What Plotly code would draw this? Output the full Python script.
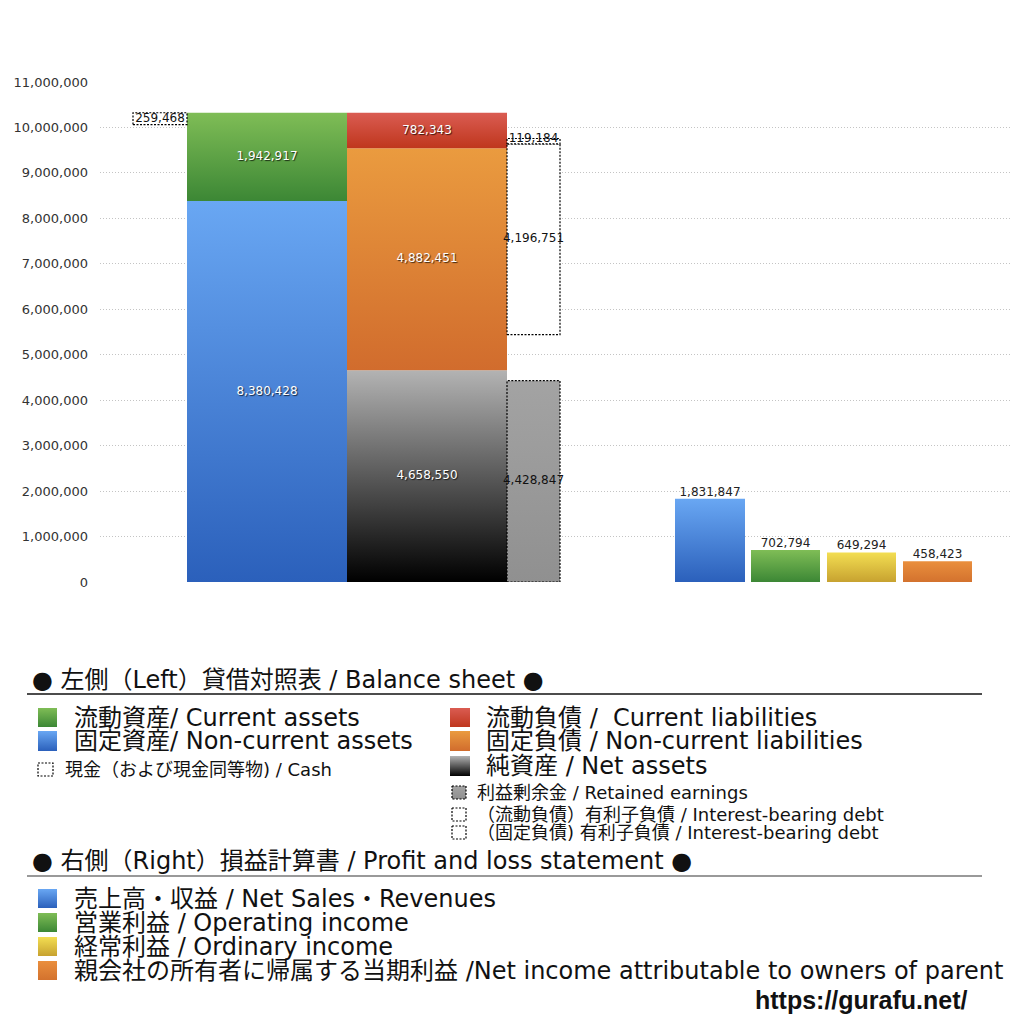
import plotly.graph_objects as go

# ---- values (thousand yen) ----
current_assets = 1942917
noncurrent_assets = 8380428
cash = 259468
current_liab = 782343
noncurrent_liab = 4882451
net_assets = 4658550
retained_earnings = 4428847
ibd_current = 119184
ibd_noncurrent = 4196751

pl_labels = ["売上高", "営業利益", "経常利益", "当期利益"]
pl_values = [1831847, 702794, 649294, 458423]

y_ticks = list(range(0, 11000001, 1000000))

FONT = "DejaVu Sans, Noto Sans CJK JP, sans-serif"

# gradient colours (top, bottom)
GREEN = ("#7fbd56", "#3c8735")
BLUE = ("#69a7f3", "#2b60bb")
RED = ("#da5c52", "#bf361d")
ORANGE = ("#ea9b3f", "#d16c2d")
GREYBLACK = ("#b3b3b3", "#000000")
GREY = ("#a3a3a3", "#909090")
YELLOW = ("#f3de52", "#c7a230")
ORANGE2 = ("#ea8f3d", "#d3722e")

# page is 1008px inside an 8px body margin; layout is planned in window pixels
PAGE = 1008
OFF = 8


def dom_x(p0, p1):
    return [(p0 - OFF) / PAGE, (p1 - OFF) / PAGE]


def dom_y(top, bottom):
    return [1 - (bottom - OFF) / PAGE, 1 - (top - OFF) / PAGE]


# column slots (window-pixel x coordinates of the plot)
col_cash = (133, 187)
col_assets = (187, 347)
col_liab = (347, 507)
col_extra = (507, 560)
pl_cols = [(675, 745), (751, 820), (827, 896), (903, 972)]

fig = go.Figure()


def box(x0, x1, y0, y1, grad=None, fill=None, dotted=False, xa="x", ya="y"):
    tr = dict(x=[x0, x1, x1, x0, x0], y=[y0, y0, y1, y1, y0], mode="lines",
              fill="toself", hoverinfo="skip", showlegend=False,
              xaxis=xa, yaxis=ya)
    if dotted:
        tr["line"] = dict(color="black", width=1.2, dash="2px,1.5px")
    else:
        tr["line"] = dict(color="rgba(0,0,0,0)", width=0)
    if grad:
        top, bottom = grad
        lo, hi = min(y0, y1), max(y0, y1)
        cs = [[0, bottom], [1, top]] if ya == "y" else [[0, top], [1, bottom]]
        tr["fillgradient"] = dict(type="vertical", colorscale=cs, start=lo, stop=hi)
    else:
        tr["fillcolor"] = fill or "rgba(0,0,0,0)"
    fig.add_trace(go.Scatter(**tr))


def mid(c):
    return (c[0] + c[1]) / 2


# ---- balance sheet ----
total_assets = current_assets + noncurrent_assets
box(*col_assets, 0, noncurrent_assets, grad=BLUE)
box(*col_assets, noncurrent_assets, total_assets, grad=GREEN)
box(*col_cash, total_assets - cash, total_assets, fill="white", dotted=True)

box(*col_liab, 0, net_assets, grad=GREYBLACK)
box(*col_liab, net_assets, net_assets + noncurrent_liab, grad=ORANGE)
box(*col_liab, net_assets + noncurrent_liab,
    net_assets + noncurrent_liab + current_liab, grad=RED)

box(*col_extra, 0, retained_earnings, grad=GREY, dotted=True)
ibd_base = net_assets + current_liab
box(*col_extra, ibd_base, ibd_base + ibd_noncurrent, fill="white", dotted=True)
box(*col_extra, ibd_base + ibd_noncurrent, ibd_base + ibd_noncurrent + ibd_current,
    fill="white", dotted=True)

# ---- profit and loss ----
for c, v, g in zip(pl_cols, pl_values, [BLUE, GREEN, YELLOW, ORANGE2]):
    box(*c, 0, v, grad=g)

# ---- value labels ----
white_x = [mid(col_assets), mid(col_assets), mid(col_liab), mid(col_liab), mid(col_liab)]
white_y = [noncurrent_assets / 2, noncurrent_assets + current_assets / 2,
           net_assets / 2, net_assets + noncurrent_liab / 2,
           net_assets + noncurrent_liab + current_liab / 2]
white_t = [noncurrent_assets, current_assets, net_assets, noncurrent_liab, current_liab]
fig.add_trace(go.Scatter(
    x=white_x, y=white_y, text=[f"{v:,}" for v in white_t], mode="text",
    textfont=dict(family=FONT, size=12, color="white",
                  shadow="1px 1px 1px rgba(0,0,0,0.7)"),
    hoverinfo="skip", showlegend=False))

dark_x = [mid(col_cash), mid(col_extra), mid(col_extra), mid(col_extra)]
dark_y = [total_assets - cash / 2, retained_earnings / 2,
          ibd_base + ibd_noncurrent / 2, ibd_base + ibd_noncurrent + ibd_current]
dark_t = [cash, retained_earnings, ibd_noncurrent, ibd_current]
fig.add_trace(go.Scatter(
    x=dark_x, y=dark_y, text=[f"{v:,}" for v in dark_t], mode="text",
    textfont=dict(family=FONT, size=12, color="#111"),
    hoverinfo="skip", showlegend=False))

fig.add_trace(go.Scatter(
    x=[mid(c) for c in pl_cols], y=pl_values, text=[f"{v:,}" for v in pl_values],
    mode="text", textposition="top center",
    textfont=dict(family=FONT, size=12, color="#222"),
    hoverinfo="skip", showlegend=False))

# ---- legend (drawn on a full-page pixel axis) ----
SW = (38, 57)
SW2 = (450, 470)
big = [
    (SW, 708, 727, GREEN, "流動資産/ Current assets", 72),
    (SW, 731, 751, BLUE, "固定資産/ Non-current assets", 72),
    (SW2, 708, 727, RED, "流動負債 /  Current liabilities", 484),
    (SW2, 731, 751, ORANGE, "固定負債 / Non-current liabilities", 484),
    (SW2, 756, 776, GREYBLACK, "純資産 / Net assets", 484),
    (SW, 889, 908, BLUE, "売上高・収益 / Net Sales・Revenues", 72),
    (SW, 913, 932, GREEN, "営業利益 / Operating income", 72),
    (SW, 937, 956, YELLOW, "経常利益 / Ordinary income", 72),
    (SW, 961, 980, ORANGE2, "親会社の所有者に帰属する当期利益 /Net income attributable to owners of parent", 72),
]
small = [
    ((38, 53), 763, 776, None, "現金（および現金同等物) / Cash", 63),
    ((452, 466), 786, 799, GREY, "利益剰余金 / Retained earnings", 475),
    ((452, 466), 808, 821, None, "（流動負債）有利子負債 / Interest-bearing debt", 475),
    ((452, 466), 826, 839, None, "（固定負債) 有利子負債 / Interest-bearing debt", 475),
]
for (xs, y0, y1, g, t, tx) in big:
    box(xs[0], xs[1], y0, y1, grad=g, xa="x2", ya="y2")
    fig.add_annotation(x=tx, y=(y0 + y1) / 2, xref="x2", yref="y2", text=t,
                       showarrow=False, xanchor="left", yanchor="middle",
                       font=dict(family=FONT, size=24, color="#111"))
for (xs, y0, y1, g, t, tx) in small:
    box(xs[0], xs[1], y0, y1, grad=g, fill="white", dotted=True, xa="x2", ya="y2")
    fig.add_annotation(x=tx, y=(y0 + y1) / 2, xref="x2", yref="y2", text=t,
                       showarrow=False, xanchor="left", yanchor="middle",
                       font=dict(family=FONT, size=18, color="#111"))

headers = [
    ("● 左側（Left）貸借対照表 / Balance sheet ●", 680, 694, "#111"),
    ("● 右側（Right）損益計算書 / Profit and loss statement ●", 861, 876, "#777"),
]
for t, ty, ly, lc in headers:
    fig.add_annotation(x=30, y=ty, xref="x2", yref="y2", text=t, showarrow=False,
                       xanchor="left", yanchor="middle",
                       font=dict(family=FONT, size=24, color="#111"))
    fig.add_shape(type="line", x0=27, x1=982, y0=ly, y1=ly, xref="x2", yref="y2",
                  line=dict(color=lc, width=1.3))

fig.add_annotation(x=970, y=1000, xref="x2", yref="y2", text="<b>https://gurafu.net/</b>",
                   showarrow=False, xanchor="right", yanchor="middle",
                   font=dict(family="Liberation Sans, Arial, sans-serif", size=25,
                             color="#111"))

fig.update_layout(
    width=PAGE, height=PAGE, autosize=False,
    margin=dict(l=0, r=0, t=0, b=0),
    paper_bgcolor="white", plot_bgcolor="rgba(0,0,0,0)",
    font=dict(family=FONT, color="#333"),
    xaxis=dict(domain=dom_x(100, 1010), range=[100, 1010], visible=False,
               fixedrange=True),
    yaxis=dict(domain=dom_y(82, 582), range=[0, 11000000],
               tickvals=y_ticks, tickformat=",", tickfont=dict(size=13, color="#333"),
               showgrid=True, gridcolor="#c4c4c4", griddash="1px,2px", gridwidth=1,
               zeroline=False, showline=False, ticks="", ticklabelstandoff=11,
               automargin=False, fixedrange=True),
    xaxis2=dict(domain=[0, 1], range=[OFF, OFF + PAGE], visible=False, anchor="y2",
                fixedrange=True),
    yaxis2=dict(domain=[0, 1], range=[OFF + PAGE, OFF], visible=False, anchor="x2",
                fixedrange=True),
)

fig.write_html("out.html")
